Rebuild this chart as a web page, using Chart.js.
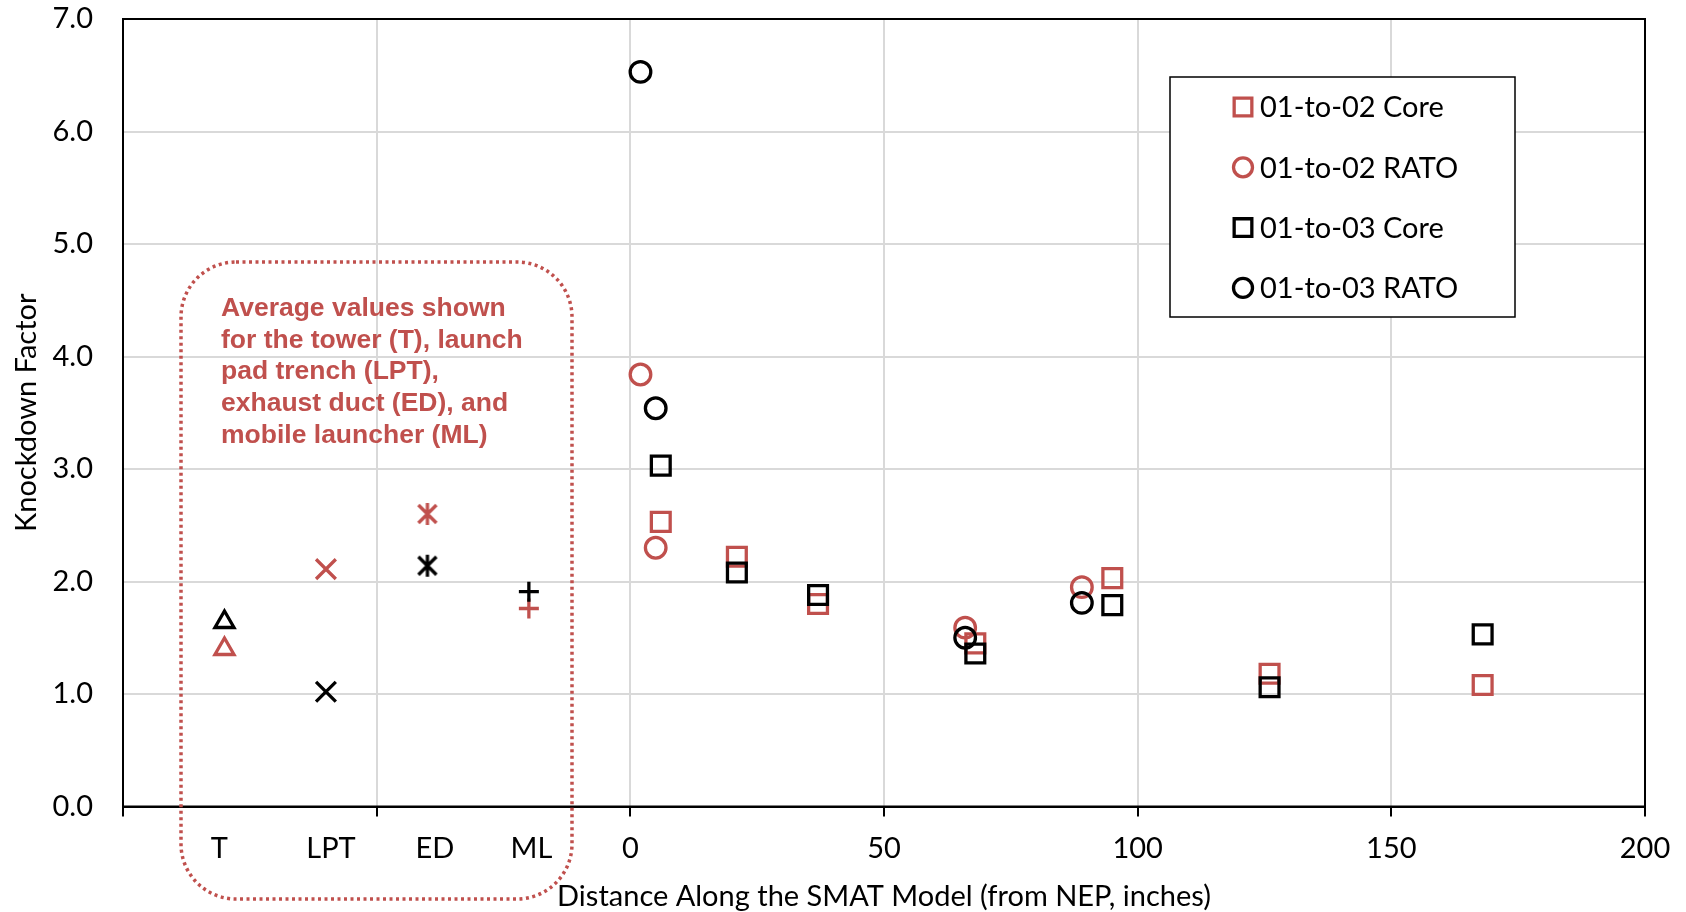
<!DOCTYPE html>
<html>
<head>
<meta charset="utf-8">
<script src="https://cdn.jsdelivr.net/npm/chart.js@4.4.0/dist/chart.umd.min.js"></script>
<style>
  html, body { margin: 0; padding: 0; background: #fff; }
  #wrap { width: 1686px; height: 912px; }
</style>
</head>
<body>
<div id="wrap"><canvas id="kdf"></canvas></div>
<script>
const RED = "#C0504D";
const GRID = "#D9D9D9";
const FONT = "Lato";
const FSIZE = 29;

// core measurement stations (inches from NEP)
const corePos = [6, 21, 37, 68, 95, 126, 168];
const core0102 = [2.53, 2.22, 1.80, 1.45, 2.03, 1.18, 1.08];
const core0103 = [3.03, 2.08, 1.88, 1.36, 1.79, 1.06, 1.53];

// RATO stations
const ratoPos = [2, 5, 66, 89];
const rato0102 = [3.84, 2.30, 1.59, 1.95];
const rato0103 = [6.53, 3.54, 1.50, 1.81];

// facility averages, drawn left of zero
const sitePos = [-80, -60, -40, -20];
const siteNames = ["T", "LPT", "ED", "ML"];
const site0102 = [1.40, 2.11, 2.60, 1.76];
const site0103 = [1.64, 1.02, 2.14, 1.91];

const xTickVals = [-100, -81, -59, -50, -38.5, -19.5, 0, 50, 100, 150, 200];
const xTickText = { "-81": "T", "-59": "LPT", "-38.5": "ED", "-19.5": "ML" };

const noteLines = [
  "Average values shown",
  "for the tower (T), launch",
  "pad trench (LPT),",
  "exhaust duct (ED), and",
  "mobile launcher (ML)"
];

// excel style asterisk: an X with a vertical bar
function asterisk(color) {
  const cv = document.createElement("canvas");
  cv.width = 28; cv.height = 28;
  const c = cv.getContext("2d");
  c.strokeStyle = color;
  c.lineWidth = 3.3;
  c.beginPath();
  c.moveTo(5, 5); c.lineTo(23, 23);
  c.moveTo(23, 5); c.lineTo(5, 23);
  c.moveTo(14, 3); c.lineTo(14, 25);
  c.stroke();
  return cv;
}

const toXY = (xs, ys) => xs.map((x, i) => ({ x: x, y: ys[i] }));
const siteStyles = color => ["triangle", "crossRot", asterisk(color), "cross"];
const siteRadius = [11, 14, 10, 10];

function series(label, xs, ys, color, style, radius, inLegend, order) {
  return {
    label: label,
    data: toXY(xs, ys),
    borderColor: color,
    backgroundColor: "rgba(0,0,0,0)",
    pointBorderWidth: 3.3,
    pointStyle: style,
    pointRadius: radius,
    inLegend: inLegend,
    order: order
  };
}

const frame = {
  id: "frame",
  beforeDatasetsDraw(chart) {
    const a = chart.chartArea, c = chart.ctx;
    c.save();
    c.strokeStyle = "#000";
    c.lineWidth = 2;
    c.strokeRect(a.left, a.top, a.right - a.left, a.bottom - a.top);
    c.restore();
  }
};

const note = {
  id: "note",
  afterDraw(chart) {
    const c = chart.ctx;
    c.save();
    c.strokeStyle = RED;
    c.lineWidth = 3.5;
    c.setLineDash([3, 3.5]);
    c.beginPath();
    c.roundRect(181, 262, 391, 637, 55);
    c.stroke();
    c.setLineDash([]);
    c.fillStyle = RED;
    c.font = "bold 26.5px 'Liberation Sans'";
    c.textBaseline = "middle";
    noteLines.forEach((t, i) => c.fillText(t, 221, 308.5 + i * 31.7));
    c.restore();
  }
};

const legendBox = {
  id: "legendBox",
  afterDatasetsDraw(chart) {
    const c = chart.ctx;
    const items = chart.data.datasets.filter(d => d.inLegend);
    c.save();
    c.fillStyle = "#fff";
    c.fillRect(1170, 77, 345, 240);
    c.strokeStyle = "#000";
    c.lineWidth = 1.5;
    c.strokeRect(1170, 77, 345, 240);
    items.forEach((d, i) => {
      const y = 107 + i * 60.3;
      c.strokeStyle = d.borderColor;
      c.fillStyle = "rgba(0,0,0,0)";
      c.lineWidth = 3.3;
      Chart.helpers.drawPoint(c, {
        pointStyle: d.pointStyle,
        radius: d.pointStyle === "rect" ? 12.5 : 9.5,
        rotation: 0,
        borderWidth: 3.3
      }, 1243, y);
      c.fillStyle = "#000";
      c.font = FSIZE + "px " + FONT;
      c.textBaseline = "middle";
      c.fillText(d.label, 1260, y + 1);
    });
    c.restore();
  }
};

const ctx = document.getElementById("kdf");

new Chart(ctx, {
  type: "scatter",
  data: {
    datasets: [
      series("01-to-02 Core", corePos, core0102, RED, "rect", 13.3, true, 2),
      series("01-to-02 RATO", ratoPos, rato0102, RED, "circle", 10.3, true, 2),
      series("01-to-03 Core", corePos, core0103, "#000", "rect", 13.3, true, 1),
      series("01-to-03 RATO", ratoPos, rato0103, "#000", "circle", 10.3, true, 1),
      series("01-to-02 sites", sitePos, site0102, RED, siteStyles(RED), siteRadius, false, 2),
      series("01-to-03 sites", sitePos, site0103, "#000", siteStyles("#000"), siteRadius, false, 1)
    ]
  },
  options: {
    responsive: true,
    maintainAspectRatio: false,
    animation: false,
    events: [],
    layout: { padding: { top: 19, right: 41, left: 0, bottom: 0 } },
    plugins: {
      legend: { display: false },
      tooltip: { enabled: false }
    },
    scales: {
      x: {
        type: "linear",
        min: -100,
        max: 200,
        afterBuildTicks: s => { s.ticks = xTickVals.map(v => ({ value: v })); },
        afterFit: s => { s.height = 105.5; s.paddingLeft = 0; s.paddingRight = 0; },
        border: { color: "#000", width: 2 },
        grid: {
          color: c => (c.tick && c.tick.value % 50 === 0 && c.tick.value > -100 && c.tick.value < 200) ? GRID : "rgba(0,0,0,0)",
          lineWidth: 2,
          tickLength: 10,
          tickWidth: 2,
          tickColor: c => (c.tick && c.tick.value % 50 === 0) ? "#000" : "rgba(0,0,0,0)"
        },
        ticks: {
          autoSkip: false,
          maxRotation: 0,
          padding: 15,
          color: "#000",
          font: { family: FONT, size: FSIZE },
          callback: v => (v >= 0 ? String(v) : (xTickText[String(v)] || ""))
        },
        title: {
          display: true,
          text: "Distance Along the SMAT Model (from NEP, inches)",
          color: "#000",
          font: { family: FONT, size: FSIZE },
          padding: { top: 0, bottom: -2 }
        }
      },
      y: {
        min: 0,
        max: 7,
        afterFit: s => { s.width = 123; s.paddingTop = 0; s.paddingBottom = 0; },
        border: { color: "#000", width: 2 },
        grid: { color: GRID, lineWidth: 2, drawTicks: false },
        ticks: {
          stepSize: 1,
          padding: 30,
          color: "#000",
          font: { family: FONT, size: FSIZE },
          callback: v => v.toFixed(1)
        },
        title: {
          display: true,
          text: "Knockdown Factor",
          color: "#000",
          font: { family: FONT, size: FSIZE },
          padding: { top: 9, bottom: 0 }
        }
      }
    }
  },
  plugins: [frame, legendBox, note]
});
</script>
</body>
</html>
